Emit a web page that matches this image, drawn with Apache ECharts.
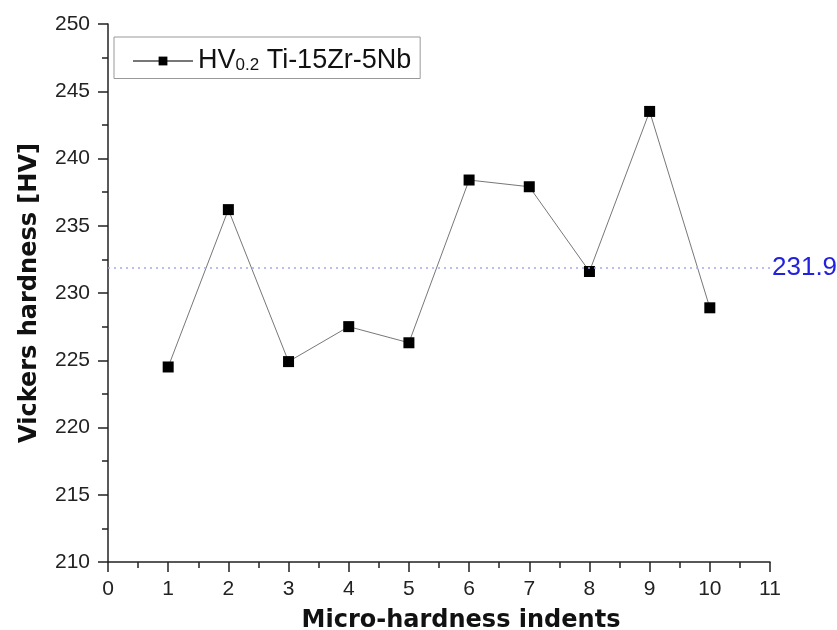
<!DOCTYPE html>
<html><head><meta charset="utf-8">
<script src="https://cdn.jsdelivr.net/npm/echarts@6/dist/echarts.min.js"></script>
<style>html,body{margin:0;padding:0;background:#fff}#c{width:837px;height:630px}</style>
</head><body><div id="c"></div>
<script>
const indents = [1,2,3,4,5,6,7,8,9,10];
const hardness = [224.5,236.2,224.9,227.5,226.3,238.4,237.9,231.6,243.5,228.9];
const meanValue = 231.9;
const seriesName = 'HV0.2 Ti-15Zr-5Nb';

const chart = echarts.init(document.getElementById('c'));
const font = 'Liberation Sans, Arial, sans-serif';
const titleFont = 'DejaVu Sans, sans-serif';
chart.setOption({
  backgroundColor:'#fff',
  animation:false,
  grid:{left:108,right:67,top:24,bottom:68,containLabel:false,outerBoundsMode:'none'},
  legend:{
    left:114, top:37, orient:'horizontal',
    borderColor:'#999', borderWidth:1, padding:[6,9,4,18],
    itemWidth:60, itemHeight:11, itemGap:0,
    textStyle:{fontFamily:font,fontSize:27,color:'#111',
      rich:{
        a:{fontFamily:font,fontSize:27,color:'#111',lineHeight:26},
        b:{fontFamily:font,fontSize:17,color:'#111',lineHeight:26,verticalAlign:'bottom',padding:[14,0,0,0]}
      }},
    formatter:function(){return '{a|HV}{b|0.2}{a| Ti-15Zr-5Nb}';},
    data:[seriesName]
  },
  xAxis:{
    type:'value',min:0,max:11,interval:1,
    name:'Micro-hardness indents',nameLocation:'middle',nameGap:47,
    nameTextStyle:{fontFamily:titleFont,fontSize:24,fontWeight:'bold',color:'#111',padding:[0,0,0,44]},
    axisLine:{show:true,lineStyle:{color:'#222',width:1.5}},
    axisTick:{show:true,inside:false,length:10,lineStyle:{color:'#222',width:1.5}},
    minorTick:{show:true,splitNumber:2,length:6,lineStyle:{color:'#222',width:1.5}},
    axisLabel:{fontFamily:font,fontSize:21,color:'#222',margin:17},
    splitLine:{show:false}
  },
  yAxis:{
    type:'value',min:210,max:250,interval:5,
    name:'Vickers hardness [HV]',nameLocation:'middle',nameGap:66,
    nameTextStyle:{fontFamily:titleFont,fontSize:24,fontWeight:'bold',color:'#111'},
    axisLine:{show:true,lineStyle:{color:'#222',width:1.5}},
    axisTick:{show:true,inside:false,length:10,lineStyle:{color:'#222',width:1.5}},
    minorTick:{show:true,splitNumber:2,length:6,lineStyle:{color:'#222',width:1.5}},
    axisLabel:{fontFamily:font,fontSize:21,color:'#222',margin:18},
    splitLine:{show:false}
  },
  series:[{
    name:seriesName,type:'line',
    data:indents.map((x,i)=>[x,hardness[i]]),
    symbol:'rect',symbolSize:11,
    itemStyle:{color:'#000'},
    lineStyle:{color:'#777',width:1},
    markLine:{
      silent:true,symbol:'none',
      lineStyle:{color:'#a8a8f0',type:[2,4],width:1.5},
      label:{show:true,position:'end',formatter:String(meanValue),fontFamily:font,fontSize:26,color:'#2222dd',distance:2},
      data:[{yAxis:meanValue}]
    }
  }]
});
</script></body></html>
